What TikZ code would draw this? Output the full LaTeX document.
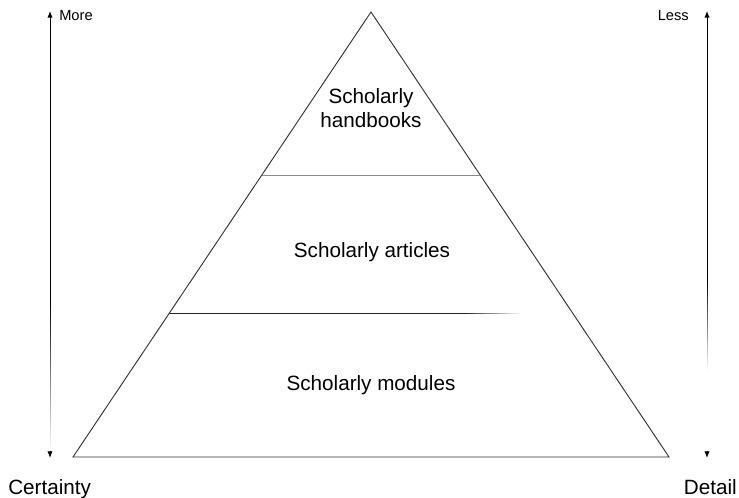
\documentclass[tikz,border=0pt]{standalone}
\usepackage{fontspec}
\setmainfont{Liberation Sans}
\usetikzlibrary{arrows.meta,positioning}
\tikzset{
  tier/.style={font=\fontsize{15.5}{18}\selectfont,align=center,inner sep=0pt},
  tag/.style={font=\fontsize{11}{13}\selectfont,inner sep=0pt},
  pole/.style={font=\fontsize{15.5}{18}\selectfont,inner sep=0pt},
  tipend/.style={-{Latex[length=5pt,width=4pt]},line width=0.75pt},
  faint/.style={line width=0.75pt,line cap=butt},
}
\begin{document}
\begin{tikzpicture}[x=0.75pt,y=-0.75pt]
		\useasboundingbox (0,0) rectangle (739,498);
		% pyramid
		\coordinate (apex) at (371,12);
		\coordinate (baseL) at (73,457);
		\coordinate (baseR) at (669,457);
		\draw[line width=0.7pt,black!80] (apex) -- (baseL) -- (baseR) -- cycle;
		\coordinate (upL) at (262,175);
		\coordinate (upR) at (480,175);
		\draw[line width=0.7pt,black!45] (upL) -- (upR);
		\coordinate (lowL) at (169,314);
		\coordinate (lowM) at (465,314);
		\draw[faint,black!85] (lowL) -- (lowM);
		\foreach \i [evaluate=\i as \s using 465+\i*2, evaluate=\i as \c using 85-\i*85/28] in {0,...,27}
			\draw[faint,black!\c] (\s,314) -- (\s+2.2,314);
		\node[tier,anchor=north] (hand) at (371,88.5) {Scholarly\\handbooks};
		\node[tier,anchor=base] (arts) at (372,258) {Scholarly articles};
		\node[tier,anchor=base] (mods) at (371,391) {Scholarly modules};
		% left axis
		\coordinate (ltop) at (50,11);
		\coordinate (lmid) at (50,300);
		\coordinate (lpre) at (50,451);
		\coordinate (lbot) at (50,458);
		\draw[tipend] (lmid) -- (ltop);
		\foreach \i [evaluate=\i as \s using 300+\i*5, evaluate=\i as \c using 100-\i*100/30] in {0,...,29}
			\draw[faint,black!\c] (50,\s) -- (50,\s+5.2);
		\draw[tipend] (lpre) -- (lbot);
		\node[tag,anchor=base west] (more) at (59,21) {More};
		\node[pole,anchor=base west] (cert) at (8,495) {Certainty};
		% right axis
		\coordinate (rtop) at (707,11);
		\coordinate (rmid) at (707,280);
		\coordinate (rpre) at (707,451);
		\coordinate (rbot) at (707,458);
		\draw[tipend] (rmid) -- (rtop);
		\foreach \i [evaluate=\i as \s using 280+\i*3, evaluate=\i as \c using 100-\i*100/30] in {0,...,29}
			\draw[faint,black!\c] (707,\s) -- (707,\s+3.2);
		\draw[tipend] (rpre) -- (rbot);
		\node[tag,anchor=base east] (less) at (689,21) {Less};
		\node[pole,anchor=base east] (det) at (737,495) {Detail};
\end{tikzpicture}
\end{document}
